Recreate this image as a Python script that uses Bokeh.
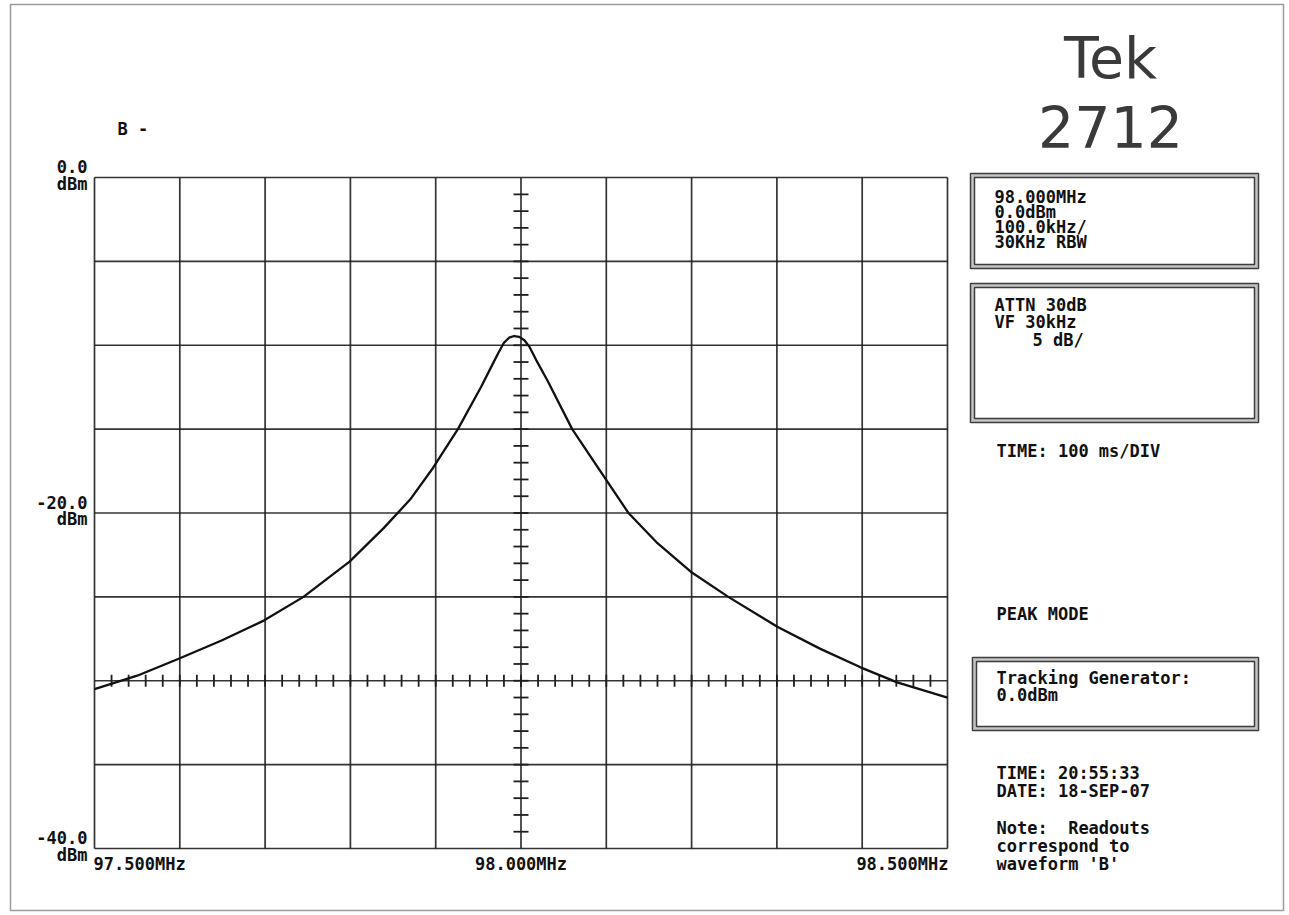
import numpy as np
from bokeh.plotting import figure
from bokeh.models import Range1d
from bokeh.core.properties import value
from bokeh.embed import file_html
from bokeh.resources import INLINE

# ---------------- data ----------------
freq_mhz = [97.500, 97.550, 97.598, 97.649, 97.699, 97.745, 97.799, 97.839,
            97.870, 97.897, 97.926, 97.953, 97.966, 97.974, 97.980, 97.986,
            97.992, 97.998, 98.004, 98.010, 98.018, 98.031, 98.060, 98.093,
            98.126, 98.160, 98.199, 98.243, 98.301, 98.351, 98.398, 98.441,
            98.500]
level_dbm = [-30.5, -29.7, -28.7, -27.6, -26.4, -25.0, -22.9, -20.9,
             -19.2, -17.3, -15.0, -12.5, -11.2, -10.4, -9.85, -9.55,
             -9.45, -9.5, -9.7, -10.1, -10.9, -12.1, -15.0, -17.5,
             -20.0, -21.8, -23.5, -25.0, -26.8, -28.1, -29.2, -30.1,
             -31.0]

x_grid_mhz = [97.5, 97.6, 97.7, 97.8, 97.9, 98.0, 98.1, 98.2, 98.3, 98.4, 98.5]
y_grid_db = [0, -5, -10, -15, -20, -25, -30, -35, -40]
x_label_pos = [97.5, 98.0, 98.5]
x_labels = ["97.500MHz", "98.000MHz", "98.500MHz"]
y_label_pos = [0, -20, -40]
y_labels = ["0.0", "-20.0", "-40.0"]
center_freq = 98.0
tick_line_db = -30

panel1 = ["98.000MHz", "0.0dBm", "100.0kHz/", "30KHz RBW"]
panel2 = ["ATTN 30dB", "VF 30kHz"]
panel2_scale = "5 dB/"
tracking = ["Tracking Generator:", "0.0dBm"]
stamp = ["TIME: 20:55:33", "DATE: 18-SEP-07"]
note = ["Note:\u00a0\u00a0Readouts", "correspond to", "waveform 'B'"]

# ---------------- layout mapping ----------------
W, H = 1289, 915
GX0, GX1, GY0, GY1 = 94, 947, 177, 848       # graticule pixel box
PXM = (GX1 - GX0) / 1.0                      # px per MHz
PXD = (GY1 - GY0) / 40.0                     # px per dB

def sx(px):
    return 97.5 + (px - GX0) / PXM

def sy(py):
    return 0.0 - (py - GY0) / PXD

p = figure(width=W, height=H, output_backend="svg", toolbar_location=None,
           x_range=Range1d(sx(0), sx(W)), y_range=Range1d(sy(H), sy(0)),
           x_axis_type=None, y_axis_type=None, min_border=0)
p.outline_line_color = None
p.background_fill_color = "white"
p.border_fill_color = "white"

GRID_COL = "#1e1e1e"
y_lo, y_hi = min(y_grid_db), max(y_grid_db)
x_lo, x_hi = min(x_grid_mhz), max(x_grid_mhz)
p.segment(x0=x_grid_mhz, y0=[y_lo] * len(x_grid_mhz), x1=x_grid_mhz, y1=[y_hi] * len(x_grid_mhz),
          line_color=GRID_COL, line_width=1.7, line_alpha=0.9)
p.segment(x0=[x_lo] * len(y_grid_db), y0=y_grid_db, x1=[x_hi] * len(y_grid_db), y1=y_grid_db,
          line_color=GRID_COL, line_width=1.7, line_alpha=0.9)

# minor ticks on the centre vertical line and on the -30 dB line
minor_db = [float(d) for d in np.arange(-39, 0, 1.0)]
p.scatter(x=[center_freq] * len(minor_db), y=minor_db, marker="dash", size=15,
          line_color=GRID_COL, line_width=1.8)
minor_f = [round(97.5 + 0.02 * i, 3) for i in range(1, 50)]
p.scatter(x=minor_f, y=[tick_line_db] * len(minor_f), marker="dash", size=12, angle=np.pi / 2,
          line_color=GRID_COL, line_width=1.8)

# waveform
p.line(freq_mhz, level_dbm, line_color="#111111", line_width=2.3, line_join="round")

FONT = value("DejaVu Sans Mono")
TS = "17px"

def txt(xs, ys, texts, align="left", size=TS, font=FONT, style="bold", x_off=0, y_off=0, color="#111111"):
    p.text(x=xs, y=ys, text=texts, text_font=font, text_font_style=style, text_font_size=size,
           text_align=align, text_baseline="middle", text_color=color,
           x_offset=x_off, y_offset=y_off)

# axis labels
txt([x_lo] * 3, y_label_pos, y_labels, align="right", x_off=-7, y_off=-11)
txt([x_lo] * 3, y_label_pos, ["dBm"] * 3, align="right", x_off=-7, y_off=6)
txt([x_label_pos[0]], [y_lo], [x_labels[0]], align="left", x_off=-1, y_off=15)
txt([x_label_pos[1]], [y_lo], [x_labels[1]], align="center", y_off=15)
txt([x_label_pos[2]], [y_lo], [x_labels[2]], align="right", x_off=1, y_off=15)

# waveform marker label
txt([sx(117)], [sy(128)], ["B -"])

# Tek 2712
txt([sx(1110)], [sy(57)], ["Tek"], align="center", size="57px", font=value("DejaVu Sans"), style="normal", color="#3a3a3a")
txt([sx(1110)], [sy(126)], ["2712"], align="center", size="57px", font=value("DejaVu Sans"), style="normal", color="#3a3a3a")

# panel boxes (double border)
def box(l, t, r, b):
    p.quad(left=[sx(l + 2)], right=[sx(r - 2)], top=[sy(t + 2)], bottom=[sy(b - 2)], fill_color=None,
           line_color="#c4c4c4", line_width=3)
    p.quad(left=[sx(l)], right=[sx(r)], top=[sy(t)], bottom=[sy(b)], fill_color=None,
           line_color="#3c3c3c", line_width=1.5)
    p.quad(left=[sx(l + 4)], right=[sx(r - 4)], top=[sy(t + 4)], bottom=[sy(b - 4)], fill_color=None,
           line_color="#3c3c3c", line_width=1.5)

box(970, 173, 1258, 268)
box(970, 283, 1258, 422)
box(972, 657, 1258, 730)

def lines(x_px, y0_px, step, texts):
    txt([sx(x_px)] * len(texts), [sy(y0_px + i * step) for i in range(len(texts))], texts)

lines(994, 196, 15.3, panel1)
lines(994, 304, 17.5, panel2)
lines(1032, 339, 0, [panel2_scale])
lines(996, 450, 0, ["TIME: 100 ms/DIV"])
lines(996, 613, 0, ["PEAK MODE"])
lines(996, 677, 17, tracking)
lines(996, 772, 18, stamp)
lines(996, 827, 18, note)

# outer page frame
p.quad(left=[sx(10)], right=[sx(1283)], top=[sy(4)], bottom=[sy(910)], fill_color=None,
       line_color="#9a9a9a", line_width=1.5)

open("out.html", "w").write(file_html(p, INLINE))
